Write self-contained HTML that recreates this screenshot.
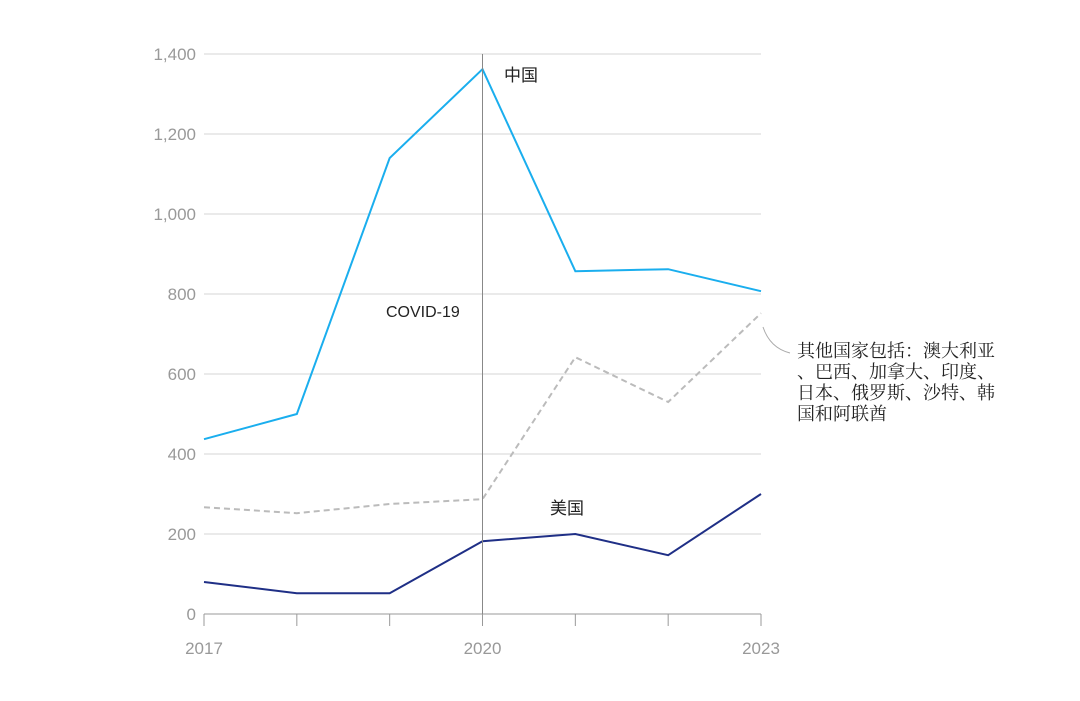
<!DOCTYPE html>
<html><head><meta charset="utf-8"><style>
html,body{margin:0;padding:0;background:#fff;}
svg{display:block;}
</style></head><body>
<svg id="chart" width="1080" height="701">
<g id="grid"></g>
<g id="yaxis"></g>
<g id="xaxis"></g>
<g id="series"></g>
<g id="annot"></g>
</svg>
<script>
const years = [2017, 2018, 2019, 2020, 2021, 2022, 2023];
const chinaValues = [437, 500, 1140, 1362, 857, 862, 807];
const otherValues = [267, 252, 275, 287, 642, 530, 752];
const usValues = [80, 52, 52, 182, 200, 147, 300];
const yTicks = [0, 200, 400, 600, 800, 1000, 1200, 1400];
const yTickLabels = ["0", "200", "400", "600", "800", "1,000", "1,200", "1,400"];
const xTickLabels = ["2017", "", "", "2020", "", "", "2023"];

const NS = "http://www.w3.org/2000/svg";
const x0 = 204, x1 = 761, yBase = 614, yTop = 54;
function xs(i){ return x0 + (x1 - x0) * i / (years.length - 1); }
function ys(v){ return yBase - (yBase - yTop) * v / 1400; }
function mk(tag, attrs, parent){
  const e = document.createElementNS(NS, tag);
  for (const k in attrs) e.setAttribute(k, attrs[k]);
  parent.appendChild(e); return e;
}
const grid = document.getElementById('grid');
const yaxis = document.getElementById('yaxis');
const xaxis = document.getElementById('xaxis');
const series = document.getElementById('series');
const annot = document.getElementById('annot');

yTicks.forEach((t, i) => {
  const l = mk('line', {x1: x0, x2: x1, y1: ys(t), y2: ys(t), stroke: t === 0 ? '#999' : '#d6d6d6', 'stroke-width': 1}, grid);
  
  
  const tx = mk('text', {x: 196, y: ys(t) + 6, 'text-anchor': 'end', 'font-family': 'Liberation Sans, sans-serif', 'font-size': 17, fill: '#999'}, yaxis);
  tx.textContent = yTickLabels[i];
  
  
});
years.forEach((yr, i) => {
  const tk = mk('line', {x1: xs(i), x2: xs(i), y1: yBase, y2: yBase + 12, stroke: '#999', 'stroke-width': 1}, xaxis);
  
  
  if (xTickLabels[i]) {
    const tx = mk('text', {x: xs(i), y: 654, 'text-anchor': 'middle', 'font-family': 'Liberation Sans, sans-serif', 'font-size': 17, fill: '#999'}, xaxis);
    tx.textContent = xTickLabels[i];
    
    
  }
});
// covid line
const cv = mk('line', {x1: xs(3), x2: xs(3), y1: yTop, y2: yBase, stroke: '#888', 'stroke-width': 1}, annot);


const cvt = mk('text', {x: 386, y: 317, 'font-family': 'Liberation Sans, sans-serif', 'font-size': 16, fill: '#222'}, annot);
cvt.textContent = 'COVID-19';



function drawLine(vals, color, dash, name){
  const pts = vals.map((v, i) => xs(i) + ',' + ys(v)).join(' ');
  const p = mk('polyline', {points: pts, fill: 'none', stroke: color, 'stroke-width': 2}, series);
  if (dash) p.setAttribute('stroke-dasharray', dash);
  
  
}
drawLine(otherValues, '#bbb', '6,4', 'others-line');
drawLine(chinaValues, '#1aaeee', null, 'china-line');
drawLine(usValues, '#1f2f86', null, 'us-line');

const cn = mk('text', {x: 504, y: 81, 'font-family': 'Liberation Sans, Noto Sans CJK SC, sans-serif', 'font-size': 17, fill: '#222'}, annot);
cn.textContent = '中国';


const us = mk('text', {x: 550, y: 514, 'font-family': 'Liberation Sans, Noto Sans CJK SC, sans-serif', 'font-size': 17, fill: '#222'}, annot);
us.textContent = '美国';



const lead = mk('path', {d: 'M763,327 Q770,348 790,353', fill: 'none', stroke: '#aaa', 'stroke-width': 1}, annot);


const lines = ['其他国家包括：澳大利亚', '、巴西、加拿大、印度、', '日本、俄罗斯、沙特、韩', '国和阿联酋'];
lines.forEach((s, i) => {
  const t = mk('text', {x: 797, y: 357 + i * 21, 'font-family': 'Liberation Serif, Noto Serif CJK SC, serif', 'font-size': 18, fill: '#222'}, annot);
  t.textContent = s;
  
  
});
</script>
</body></html>
